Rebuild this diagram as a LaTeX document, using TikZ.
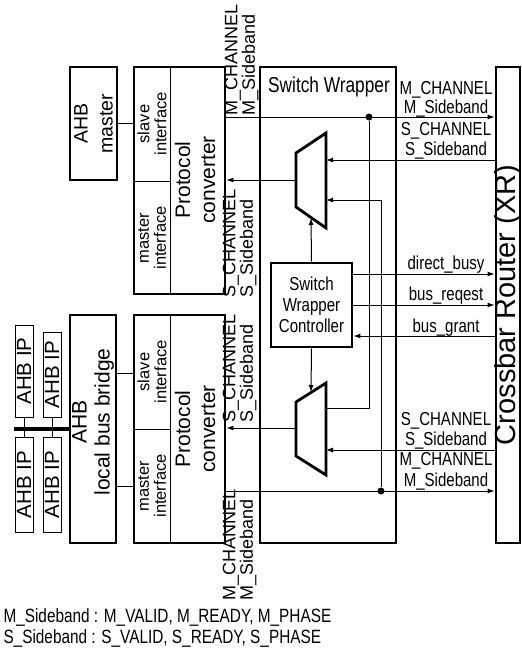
\documentclass[tikz,border=0pt]{standalone}
\usepackage{fontspec}
\setmainfont{Liberation Sans}
\newfontfamily\condfont[FakeStretch=0.8]{Liberation Sans}
\usetikzlibrary{arrows.meta}

\begin{document}
\begin{tikzpicture}[x=1pt,y=-1pt,line width=1pt,>={Latex[length=7pt,width=5pt]}]
  \tikzstyle{blk}=[draw,line width=2.8pt,inner sep=0pt]
  \tikzstyle{ipbox}=[draw,line width=1pt,inner sep=0pt,minimum width=18pt]
  \tikzstyle{rot}=[rotate=90,align=center,inner sep=0pt]
  \tikzstyle{sig}=[font=\condfont\fontsize{18.8}{21}\selectfont,inner sep=0pt,anchor=base]
  \tikzstyle{vsig}=[rotate=90,align=left,anchor=south west,inner sep=0pt,font=\fontsize{18}{15}\selectfont]
  \tikzstyle{jdot}=[circle,fill,inner sep=0pt,minimum size=7pt]

  \useasboundingbox (0,0) rectangle (522,648);

  \node[blk,minimum width=47pt,minimum height=113pt] (amaster) at (93.5,123.5) {};
  \node[rot,font=\fontsize{19.5}{25}\selectfont] (amastertxt) at (amaster) {AHB\\master};

  \node[blk,minimum width=46pt,minimum height=228pt] (bridge) at (93,429) {};
  \node[rot,font=\fontsize{21}{23}\selectfont] (bridgetxt) at (93,422) {AHB\\local bus bridge};

  \node[blk,minimum width=91pt,minimum height=227pt] (pcup) at (179.5,180.5) {};
  \draw (170,67) -- (170,294);
  \draw (134,181) -- (170,181);
  \node[rot,font=\fontsize{16.5}{17}\selectfont] (slvup) at (152,124) {slave\\interface};
  \node[rot,font=\fontsize{16.5}{17}\selectfont] (mstup) at (152,238) {master\\interface};
  \node[rot,font=\fontsize{21}{25}\selectfont] (pcuptxt) at (195,180) {Protocol\\converter};

  \node[blk,minimum width=91pt,minimum height=228pt] (pclow) at (179.5,429) {};
  \draw (170,315) -- (170,543);
  \draw (134,429) -- (170,429);
  \node[rot,font=\fontsize{16.5}{17}\selectfont] (slvlow) at (152,372) {slave\\interface};
  \node[rot,font=\fontsize{16.5}{17}\selectfont] (mstlow) at (152,486) {master\\interface};
  \node[rot,font=\fontsize{21}{25}\selectfont] (pclowtxt) at (195,429) {Protocol\\converter};

  \node[ipbox,minimum height=92pt] (ip1) at (24,371) {};
  \node[ipbox,minimum height=85pt] (ip2) at (52,374.5) {};
  \node[ipbox,minimum height=95pt] (ip3) at (24,484.5) {};
  \node[ipbox,minimum height=95pt] (ip4) at (52,484.5) {};
  \foreach \n in {ip1,ip2,ip3,ip4}
    \node[rot,font=\fontsize{20.5}{21}\selectfont] (\n txt) at (\n) {AHB IP};
  \coordinate (busend) at (14,429);
  \draw[line width=4pt] (busend) -- (bridge.west);
  \draw (ip1.south) -- (ip3.north);
  \draw (ip2.south) -- (ip4.north);

  \node[blk,minimum width=136pt,minimum height=476pt] (sw) at (328,305) {};
  \node[font=\condfont\fontsize{21.6}{24}\selectfont,anchor=base,inner sep=0pt] (swtitle) at (329,92) {Switch Wrapper};
  \node[blk,minimum width=81pt,minimum height=84pt,align=center,font=\condfont\fontsize{18.8}{21}\selectfont] (swc) at (311.5,305) {Switch\\Wrapper\\Controller};

  \node[blk,minimum width=24pt,minimum height=476pt] (xr) at (508,305) {};
  \node[rot,font=\fontsize{29}{30}\selectfont] (xrtxt) at (xr) {Crossbar Router (XR)};

  \draw[line width=2.8pt] (296,153) -- (326,133) -- (326,228) -- (296,207) -- cycle;
  \draw[line width=2.8pt] (296,402) -- (326,383) -- (326,475) -- (296,456) -- cycle;
  \coordinate (m1out) at (296,180);
  \coordinate (m1ina) at (326,160);
  \coordinate (m1inb) at (326,200);
  \coordinate (m1sel) at (311,218);
  \coordinate (m2out) at (296,428);
  \coordinate (m2ina) at (326,408);
  \coordinate (m2inb) at (326,450);
  \coordinate (m2sel) at (311,392);

  \node[jdot] (d1) at (369,117) {};
  \node[jdot] (d2) at (381,491) {};

  \draw (amaster.east) -- (amaster.east -| pcup.west);
  \draw ([yshift=56pt]bridge.east) -- ([yshift=56pt]pclow.west);
  \draw ([yshift=-57pt]bridge.east) -- ([yshift=-57pt]pclow.west);

  \draw[->] (pcup.east |- d1) -- (xr.west |- d1);
  \draw (d1) -- (d1 |- m2ina) -- (m2ina);
  \draw[->] (m1out) -- (pcup.east |- m1out);
  \draw[->] (xr.west |- m1ina) -- (m1ina);
  \draw[->] (d2) -- (d2 |- m1inb) -- (m1inb);
  \draw[->] (xr.west |- m2inb) -- (m2inb);
  \draw[->] (m2out) -- (pclow.east |- m2out);
  \draw[->] (pclow.east |- d2) -- (xr.west |- d2);
  \draw[->] (swc.north) -- (m1sel);
  \draw[->] (swc.south) -- (m2sel);
  \draw[->] ([yshift=31pt]swc.east) -- ([yshift=31pt]xr.west);
  \draw[->] (swc.east) -- (xr.west);
  \draw[->] ([yshift=-31pt]xr.west) -- ([yshift=-31pt]swc.east);

  \node[sig] (mch1) at (446,94) {M\_CHANNEL};
  \node[sig] (msb1) at (446,113) {M\_Sideband};
  \node[sig] (sch1) at (446,135) {S\_CHANNEL};
  \node[sig] (ssb1) at (446,155) {S\_Sideband};
  \node[sig] (busy) at (446,269) {direct\_busy};
  \node[sig] (req) at (446,300) {bus\_reqest};
  \node[sig] (grant) at (446,332) {bus\_grant};
  \node[sig] (sch2) at (446,425) {S\_CHANNEL};
  \node[sig] (ssb2) at (446,445) {S\_Sideband};
  \node[sig] (mch2) at (446,465) {M\_CHANNEL};
  \node[sig] (msb2) at (446,486) {M\_Sideband};

  \node[vsig] (mleft1) at (259,116) {M\_CHANNEL\\M\_Sideband};
  \node[vsig] (sleft1) at (257,298) {S\_CHANNEL\\S\_Sideband};
  \node[vsig] (sleft2) at (257,423) {S\_CHANNEL\\S\_Sideband};
  \node[vsig] (mleft2) at (257,601) {M\_CHANNEL\\M\_Sideband};

  \node[font=\condfont\fontsize{19.2}{21}\selectfont,anchor=base west,inner sep=0pt] (leg1) at (3,622) {M\_Sideband : M\_VALID, M\_READY, M\_PHASE};
  \node[font=\condfont\fontsize{19.2}{21}\selectfont,anchor=base west,inner sep=0pt] (leg2) at (3,643) {S\_Sideband : S\_VALID, S\_READY, S\_PHASE};
\end{tikzpicture}
\end{document}
